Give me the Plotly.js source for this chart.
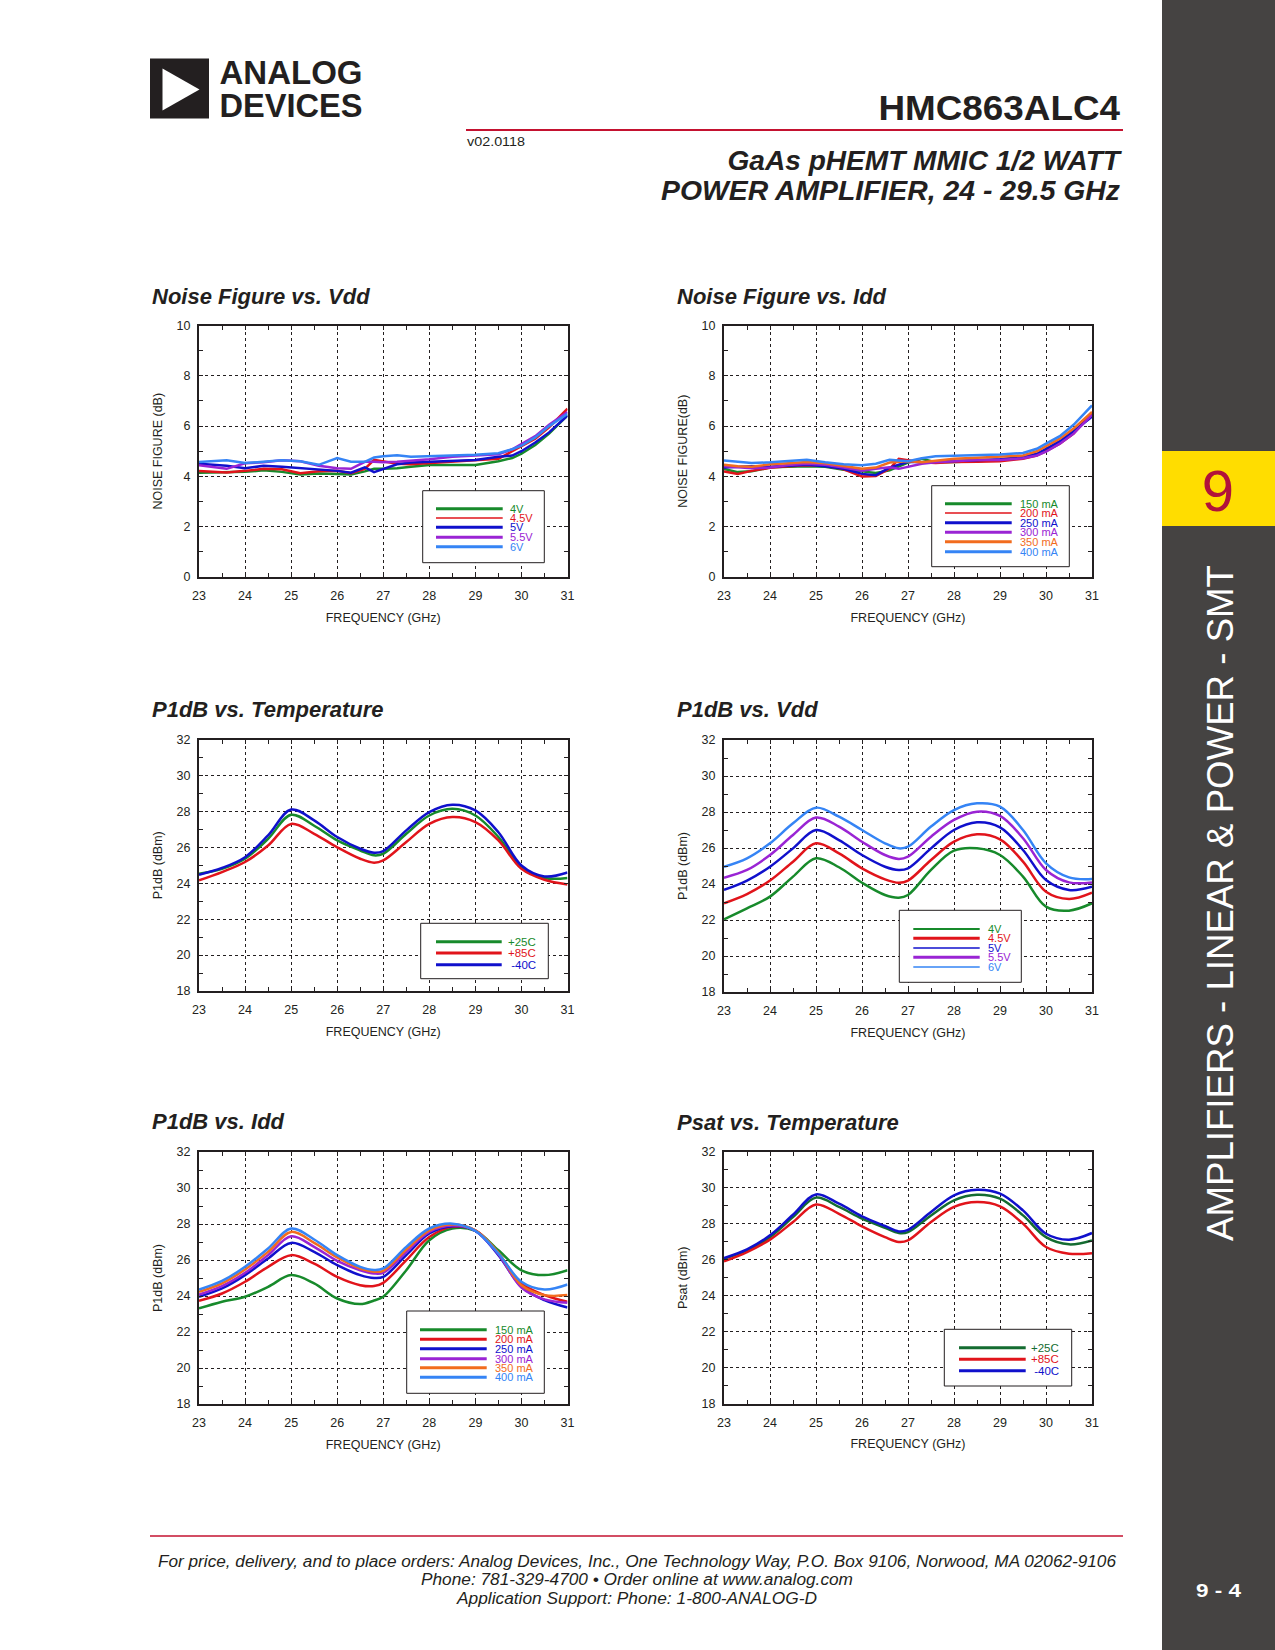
<!DOCTYPE html>
<html><head><meta charset="utf-8">
<script src="https://cdn.plot.ly/plotly-3.0.1.min.js"></script>
<style>
html,body{margin:0;padding:0;background:#fff;}
#page{position:relative;width:1275px;height:1650px;overflow:hidden;background:#fff;}
#plot{position:absolute;left:0;top:0;width:1275px;height:1650px;}
#deco{position:absolute;left:0;top:0;pointer-events:none;}
#deco text{font-family:"Liberation Sans",Arial,sans-serif;}
</style></head>
<body><div id="page"><div id="plot"></div>
<svg id="deco" width="1275" height="1650" xmlns="http://www.w3.org/2000/svg">
  <rect x="150" y="58.5" width="59" height="60" fill="#231f20"/>
  <polygon points="162.5,68.5 162.5,110.5 199.5,89.5" fill="#ffffff"/>
  <text font-size="33" font-weight="bold" fill="#231f20"><tspan x="219.5" y="83.5" textLength="143" lengthAdjust="spacingAndGlyphs">ANALOG</tspan><tspan x="219.5" y="117" textLength="143" lengthAdjust="spacingAndGlyphs">DEVICES</tspan></text>
  <text x="878.5" y="119.5" font-size="35" font-weight="bold" fill="#231f20" textLength="241.5" lengthAdjust="spacingAndGlyphs">HMC863ALC4</text>
  <line x1="466" y1="130" x2="1123" y2="130" stroke="#c41230" stroke-width="2"/>
  <text x="467" y="146" font-size="12.5" fill="#231f20" textLength="58" lengthAdjust="spacingAndGlyphs">v02.0118</text>
  <text x="727.5" y="169.5" font-size="28" font-weight="bold" font-style="italic" fill="#231f20" textLength="392.5" lengthAdjust="spacingAndGlyphs">GaAs pHEMT MMIC 1/2 WATT</text>
  <text x="661" y="199.5" font-size="28" font-weight="bold" font-style="italic" fill="#231f20" textLength="459" lengthAdjust="spacingAndGlyphs">POWER AMPLIFIER, 24 - 29.5 GHz</text>
  <rect x="1162" y="0" width="113" height="1650" fill="#454342"/>
  <rect x="1162" y="451" width="113" height="75" fill="#ffdd00"/>
  <text x="1218" y="510.5" font-size="58" fill="#b1123a" text-anchor="middle">9</text>
  <text transform="translate(1232.7,1241) rotate(-90)" x="0" y="0" font-size="36" fill="#ffffff" textLength="676" lengthAdjust="spacingAndGlyphs">AMPLIFIERS - LINEAR &amp; POWER - SMT</text>
  <text x="1218.5" y="1597" font-size="19" font-weight="bold" fill="#ffffff" text-anchor="middle" textLength="45" lengthAdjust="spacingAndGlyphs">9 - 4</text>
  <line x1="150" y1="1536" x2="1123" y2="1536" stroke="#c41230" stroke-width="1.5"/>
  <text x="637" y="1567" font-size="16" font-style="italic" fill="#231f20" text-anchor="middle" textLength="958" lengthAdjust="spacingAndGlyphs">For price, delivery, and to place orders: Analog Devices, Inc., One Technology Way, P.O. Box 9106, Norwood, MA 02062-9106</text>
  <text x="637" y="1585" font-size="16" font-style="italic" fill="#231f20" text-anchor="middle" textLength="432" lengthAdjust="spacingAndGlyphs">Phone: 781-329-4700 • Order online at www.analog.com</text>
  <text x="637" y="1604" font-size="16" font-style="italic" fill="#231f20" text-anchor="middle" textLength="360" lengthAdjust="spacingAndGlyphs">Application Support: Phone: 1-800-ANALOG-D</text>
</svg>
</div>
<script>
// ---------------- DATA ----------------
const freqNF = [23,23.3,23.6,24,24.4,24.8,25.2,25.6,26,26.3,26.6,26.8,27,27.3,27.6,28,28.5,29,29.5,29.8,30,30.3,30.6,31];
const freqP  = [23,23.5,24,24.5,25,25.5,26,26.5,26.8,27,27.5,28,28.5,29,29.5,30,30.5,31];

// Noise Figure vs. Vdd (dB)
const vddLabels = ['4V','4.5V','5V','5.5V','6V'];
const nfVdd_4V  = [4.15,4.16,4.17,4.18,4.24,4.18,4.08,4.12,4.10,4.08,4.20,4.30,4.30,4.32,4.38,4.45,4.45,4.45,4.60,4.73,4.90,5.25,5.70,6.42];
const nfVdd_45V = [4.21,4.18,4.16,4.22,4.30,4.28,4.13,4.20,4.22,4.13,4.30,4.66,4.60,4.50,4.48,4.52,4.58,4.64,4.70,5.00,5.20,5.50,5.95,6.69];
const nfVdd_5V  = [4.50,4.45,4.42,4.32,4.42,4.38,4.33,4.28,4.22,4.15,4.36,4.17,4.30,4.48,4.55,4.57,4.60,4.65,4.78,4.83,5.00,5.35,5.75,6.42];
const nfVdd_55V = [4.44,4.36,4.30,4.52,4.56,4.64,4.60,4.42,4.32,4.30,4.58,4.58,4.56,4.58,4.62,4.68,4.78,4.83,4.88,5.08,5.28,5.60,6.05,6.56];
const nfVdd_6V  = [4.57,4.60,4.64,4.53,4.58,4.64,4.60,4.46,4.73,4.58,4.58,4.75,4.80,4.84,4.78,4.80,4.82,4.86,4.92,5.08,5.22,5.55,6.00,6.49];

// Noise Figure vs. Idd (dB)
const iddLabels = ['150 mA','200 mA','250 mA','300 mA','350 mA','400 mA'];
const nfIdd_150 = [4.30,4.17,4.20,4.36,4.38,4.40,4.38,4.26,4.20,4.14,4.24,4.40,4.55,4.70,4.56,4.57,4.60,4.66,4.77,4.85,5.06,5.35,5.75,6.45];
const nfIdd_200 = [4.20,4.10,4.22,4.34,4.40,4.44,4.42,4.28,4.00,4.02,4.30,4.70,4.64,4.56,4.53,4.57,4.58,4.60,4.70,4.83,5.00,5.30,5.70,6.54];
const nfIdd_250 = [4.35,4.38,4.40,4.38,4.42,4.46,4.40,4.30,4.10,4.05,4.35,4.45,4.58,4.56,4.58,4.60,4.66,4.68,4.77,4.90,5.10,5.40,5.80,6.38];
const nfIdd_300 = [4.40,4.35,4.32,4.35,4.45,4.50,4.46,4.35,4.23,4.30,4.36,4.30,4.38,4.50,4.56,4.60,4.65,4.65,4.72,4.83,4.98,5.30,5.70,6.45];
const nfIdd_350 = [4.46,4.40,4.38,4.48,4.52,4.57,4.52,4.40,4.30,4.35,4.55,4.58,4.60,4.56,4.62,4.70,4.74,4.77,4.83,5.00,5.20,5.50,5.90,6.56];
const nfIdd_400 = [4.63,4.58,4.53,4.56,4.60,4.66,4.56,4.48,4.44,4.50,4.66,4.62,4.60,4.72,4.80,4.82,4.84,4.87,4.93,5.10,5.30,5.60,6.05,6.82];

// P1dB vs. Temperature (dBm)
const tempLabels = ['+25C','+85C',' -40C'];
const p1Temp_25 = [24.53,24.80,25.36,26.47,27.81,27.20,26.38,25.82,25.55,25.64,26.75,27.77,28.14,27.77,26.57,24.90,24.29,24.29];
const p1Temp_85 = [24.16,24.62,25.18,26.10,27.30,26.75,26.00,25.36,25.14,25.27,26.29,27.30,27.68,27.40,26.38,24.80,24.19,23.93];
const p1Temp_m40= [24.47,24.85,25.45,26.66,28.10,27.50,26.57,25.92,25.70,25.79,26.94,27.96,28.37,28.05,26.84,24.99,24.38,24.60];

// P1dB vs. Vdd (dBm)
const p1Vdd_4V  = [22.04,22.65,23.30,24.41,25.43,24.93,24.07,23.39,23.24,23.39,24.78,25.85,25.98,25.61,24.41,22.74,22.52,22.93];
const p1Vdd_45V = [22.93,23.44,24.19,25.24,26.26,25.70,24.87,24.26,24.07,24.19,25.33,26.35,26.76,26.48,25.24,23.57,23.17,23.52];
const p1Vdd_5V  = [23.67,24.19,24.96,25.98,27.00,26.44,25.61,24.96,24.78,24.87,25.98,27.00,27.43,27.15,25.89,24.22,23.67,23.85];
const p1Vdd_55V = [24.35,24.78,25.61,26.72,27.69,27.19,26.35,25.61,25.39,25.52,26.63,27.56,28.02,27.78,26.54,24.78,24.09,24.09];
const p1Vdd_6V  = [24.96,25.43,26.26,27.37,28.24,27.74,27.00,26.26,25.98,26.07,27.19,28.11,28.48,28.30,27.00,25.15,24.37,24.28];

// P1dB vs. Idd (dBm)
const p1Idd_150 = [23.31,23.68,23.96,24.51,25.16,24.70,23.86,23.55,23.75,23.96,25.43,27.10,27.75,27.62,26.54,25.43,25.16,25.43];
const p1Idd_200 = [23.73,24.14,24.79,25.62,26.27,25.80,25.06,24.60,24.55,24.73,25.99,27.28,27.84,27.65,26.36,24.69,24.05,23.68];
const p1Idd_250 = [23.96,24.42,25.16,26.08,26.95,26.45,25.71,25.16,25.00,25.06,26.27,27.47,27.88,27.62,26.27,24.51,23.77,23.36];
const p1Idd_300 = [24.08,24.55,25.29,26.27,27.32,26.73,25.95,25.43,25.25,25.29,26.45,27.56,27.91,27.62,26.32,24.47,23.81,23.62];
const p1Idd_350 = [24.23,24.70,25.47,26.45,27.56,26.95,26.14,25.53,25.35,25.40,26.58,27.65,27.97,27.65,26.40,24.60,24.05,24.05];
const p1Idd_400 = [24.36,24.84,25.62,26.64,27.75,27.14,26.27,25.62,25.45,25.53,26.73,27.75,28.02,27.62,26.36,24.79,24.36,24.64];

// Psat vs. Temperature (dBm)
const psat_25  = [26.06,26.52,27.26,28.38,29.46,28.94,28.29,27.78,27.49,27.54,28.47,29.31,29.62,29.40,28.47,27.26,26.86,27.08];
const psat_85  = [25.91,26.43,27.12,28.10,29.08,28.56,27.86,27.26,26.99,27.08,28.10,28.94,29.21,28.97,28.01,26.71,26.34,26.37];
const psat_m40 = [26.10,26.58,27.36,28.51,29.64,29.12,28.42,27.88,27.58,27.67,28.66,29.59,29.90,29.68,28.75,27.45,27.12,27.49];

const chartTitles = ['Noise Figure vs. Vdd','Noise Figure vs. Idd','P1dB vs. Temperature','P1dB vs. Vdd','P1dB vs. Idd','Psat vs. Temperature'];
const yTitles = ['NOISE FIGURE (dB)','NOISE FIGURE(dB)','P1dB (dBm)','P1dB (dBm)','P1dB (dBm)','Psat (dBm)'];
const xTitle = 'FREQUENCY (GHz)';

// ---------------- STYLE ----------------
const F = '"Liberation Sans", Arial, sans-serif';
const INK = '#231f20';
const W = 1275, H = 1650;
const PX = x => x / W, PY = y => 1 - y / H;
const C = {green:'#178a2b', dgreen:'#146c31', red:'#e1141b', blue:'#1010cc', purple:'#9a24d4', orange:'#f26c1e', lblue:'#3584f5'};

const panels = [
  {l:199, r:567.5, t:325.5, b:577,   yr:[0,10],  dy:2, title:[150,296]},
  {l:724, r:1092,  t:325.5, b:577,   yr:[0,10],  dy:2, title:[675,296]},
  {l:199, r:567.5, t:739.5, b:991,   yr:[18,32], dy:2, title:[150,709]},
  {l:724, r:1092,  t:740,   b:992,   yr:[18,32], dy:2, title:[675,709]},
  {l:199, r:567.5, t:1152,  b:1404,  yr:[18,32], dy:2, title:[150,1121]},
  {l:724, r:1092,  t:1152,  b:1403.5,yr:[18,32], dy:2, title:[675,1122]}
];

const series = [
  {p:1, x:freqNF, shape:'linear', ys:[nfVdd_4V,nfVdd_45V,nfVdd_5V,nfVdd_55V,nfVdd_6V], names:vddLabels,
   colors:[C.green,C.red,C.blue,C.purple,C.lblue]},
  {p:2, x:freqNF, shape:'linear', ys:[nfIdd_150,nfIdd_200,nfIdd_250,nfIdd_300,nfIdd_350,nfIdd_400], names:iddLabels,
   colors:[C.green,C.red,C.blue,C.purple,C.orange,C.lblue]},
  {p:3, x:freqP, shape:'spline', ys:[p1Temp_25,p1Temp_85,p1Temp_m40], names:tempLabels,
   colors:[C.green,C.red,C.blue]},
  {p:4, x:freqP, shape:'spline', ys:[p1Vdd_4V,p1Vdd_45V,p1Vdd_5V,p1Vdd_55V,p1Vdd_6V], names:vddLabels,
   colors:[C.green,C.red,C.blue,C.purple,C.lblue]},
  {p:5, x:freqP, shape:'spline', ys:[p1Idd_150,p1Idd_200,p1Idd_250,p1Idd_300,p1Idd_350,p1Idd_400], names:iddLabels,
   colors:[C.green,C.red,C.blue,C.purple,C.orange,C.lblue]},
  {p:6, x:freqP, shape:'spline', ys:[psat_25,psat_85,psat_m40], names:tempLabels,
   colors:[C.dgreen,C.red,C.blue]}
];

// legend geometry (page px)
const legends = [
  {box:[422.7,490.7,544.3,562.7], lx:[436,502.7], tx:509.3, anchor:'left', ys:[508.7,518,527.3,537.3,546.7], fs:11, lw:[3,1.5,3,3,3]},
  {box:[931.7,485.7,1069.3,566.7], lx:[945,1011.7], tx:1019, anchor:'left', ys:[503.7,513,522.7,532.3,541.7,551.7], fs:11, lw:[3,1.5,3,3,3,3]},
  {box:[420.7,923.3,548.3,978.7], lx:[436,501.7], tx:536.5, anchor:'right', ys:[941.7,953,964.7], fs:11.5, lw:[3,3,3]},
  {box:[899.3,910.3,1021.3,982.3], lx:[913.3,979.7], tx:986.7, anchor:'left', ys:[929,938.3,948,957.3,967], fs:11, lw:[2,3,1.5,3,1.5]},
  {box:[406.7,1311,544.3,1393.3], lx:[420,486.7], tx:494, anchor:'left', ys:[1329.7,1339.3,1348.7,1358.7,1367.7,1377.3], fs:11, lw:[3,3,3,3,3,3]},
  {box:[944.3,1329.3,1071.7,1386], lx:[959,1025.7], tx:1059.5, anchor:'right', ys:[1347.7,1359.3,1370.7], fs:11.5, lw:[3,3,3]}
];

// ---------------- BUILD ----------------
const data = [];
const layout = {
  width:W, height:H, margin:{l:0,r:0,t:0,b:0},
  paper_bgcolor:'rgba(0,0,0,0)', plot_bgcolor:'#ffffff',
  showlegend:false, font:{family:F, color:INK},
  shapes:[], annotations:[]
};

panels.forEach((p, i) => {
  const n = i + 1, sfx = n === 1 ? '' : String(n);
  const tf = {family:F, size:12.5, color:INK};
  const common = {
    showgrid:true, gridcolor:INK, griddash:'dot', gridwidth:1,
    showline:true, linecolor:INK, linewidth:2, mirror:'allticks',
    ticks:'inside', ticklen:4, tickwidth:1, tickcolor:INK,
    zeroline:false, tickfont:tf, fixedrange:true, automargin:false
  };
  layout['xaxis' + sfx] = Object.assign({}, common, {
    domain:[PX(p.l), PX(p.r)], anchor:'y' + sfx, range:[23,31], tick0:23, dtick:1,
    minor:{dtick:0.5, ticks:'inside', ticklen:4, tickwidth:1, tickcolor:INK, showgrid:false},
    ticklabelstandoff:6,
    title:{text:xTitle, font:tf, standoff:11}
  });
  layout['yaxis' + sfx] = Object.assign({}, common, {
    domain:[PY(p.b), PY(p.t)], anchor:'x' + sfx, range:p.yr, tick0:p.yr[0], dtick:p.dy,
    minor:{dtick:1, ticks:'inside', ticklen:4, tickwidth:1, tickcolor:INK, showgrid:false},
    ticklabelstandoff:4,
    title:{text:yTitles[i], font:tf, standoff:11}
  });
  layout.annotations.push({
    xref:'paper', yref:'paper', x:PX(p.title[0]), y:PY(p.title[1]),
    xanchor:'left', yanchor:'middle', showarrow:false,
    text:'<b><i>' + chartTitles[i] + '</i></b>',
    font:{family:F, size:22, color:INK}
  });
});

series.forEach((s, i) => {
  const sfx = s.p === 1 ? '' : String(s.p);
  s.ys.forEach((y, k) => {
    data.push({
      type:'scatter', mode:'lines', x:s.x, y:y, name:s.names[k],
      xaxis:'x' + sfx, yaxis:'y' + sfx, hoverinfo:'skip',
      line:{color:s.colors[k], width:2.5, shape:s.shape, smoothing:1}
    });
  });
  // legend box
  const L = legends[i];
  layout.shapes.push({
    type:'rect', xref:'paper', yref:'paper', layer:'above',
    x0:PX(L.box[0]), x1:PX(L.box[2]), y0:PY(L.box[3]), y1:PY(L.box[1]),
    line:{color:INK, width:1}, fillcolor:'#ffffff'
  });
  s.names.forEach((nm, k) => {
    layout.shapes.push({
      type:'line', xref:'paper', yref:'paper', layer:'above',
      x0:PX(L.lx[0]), x1:PX(L.lx[1]), y0:PY(L.ys[k]), y1:PY(L.ys[k]),
      line:{color:s.colors[k], width:L.lw[k]}
    });
    layout.annotations.push({
      xref:'paper', yref:'paper', x:PX(L.tx), y:PY(L.ys[k]),
      xanchor:L.anchor, yanchor:'middle', showarrow:false, borderpad:0,
      text:nm.replace(/ /g, '&nbsp;'), font:{family:F, size:L.fs, color:s.colors[k]}
    });
  });
});

Plotly.newPlot('plot', data, layout, {staticPlot:true, displayModeBar:false});
</script>
</body></html>
